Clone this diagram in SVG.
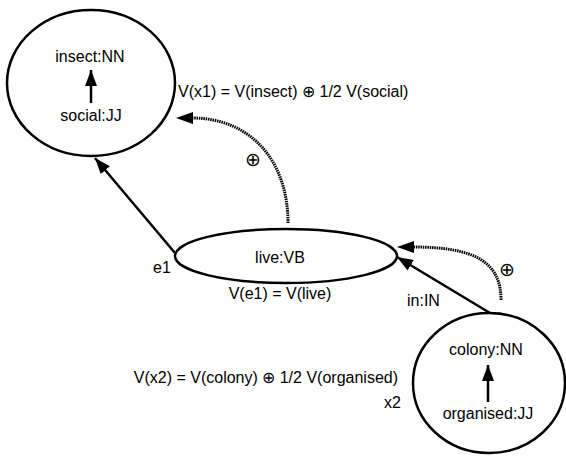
<svg xmlns="http://www.w3.org/2000/svg" width="566" height="456" viewBox="0 0 566 456">
<style>
text{font-family:"Liberation Sans",Arial,sans-serif;font-size:16px;fill:#000}
.node{fill:#fff;stroke:#000;stroke-width:2.5}
.edge{fill:none;stroke:#000;stroke-width:2.5}
.dot{fill:none;stroke:#000;stroke-width:3;stroke-dasharray:1.5 0.8}
.c{text-anchor:middle}
.op{font-size:19px}
</style>
<defs>
<marker id="ah" markerUnits="userSpaceOnUse" markerWidth="20" markerHeight="14" refX="16" refY="6" orient="auto" viewBox="0 0 20 12">
<path d="M0,0 L16,6 L0,12 Z" fill="#000" stroke="none"/>
</marker>
</defs>
<rect width="566" height="456" fill="#fff"/>
<g id="connectors">
<line class="edge" x1="175" y1="253" x2="95" y2="158" marker-end="url(#ah)"/>
<line class="edge" x1="490" y1="313" x2="397" y2="257" marker-end="url(#ah)"/>
<path class="dot" d="M288,223 C288,160 250,118 192,118"/>
<path d="M176,118 L193,112 L193,124 Z" fill="#000"/>
<path class="dot" d="M501,300 C501,262 475,247 413,247"/>
<path d="M397,247 L414,241 L414,253 Z" fill="#000"/>
<text class="c op" x="253" y="166">⊕</text>
<text class="c op" x="507" y="276">⊕</text>
<text x="407" y="306">in:IN</text>
</g>
<g id="x1">
<ellipse class="node" cx="91" cy="83" rx="84" ry="73"/>
<text class="c" x="90" y="62">insect:NN</text>
<text class="c" x="91" y="121">social:JJ</text>
<line class="edge" x1="91" y1="103" x2="91" y2="70" marker-end="url(#ah)"/>
<text x="178" y="97">V(x1) = V(insect) ⊕ 1/2 V(social)</text>
</g>
<g id="e1">
<ellipse class="node" cx="286" cy="256" rx="111" ry="27"/>
<text class="c" x="280" y="263">live:VB</text>
<text x="153" y="273">e1</text>
<text class="c" x="280" y="299">V(e1) = V(live)</text>
</g>
<g id="x2">
<ellipse class="node" cx="489" cy="383" rx="76" ry="70"/>
<text class="c" x="486" y="355">colony:NN</text>
<text class="c" x="488" y="419">organised:JJ</text>
<line class="edge" x1="488" y1="402" x2="488" y2="365" marker-end="url(#ah)"/>
<text x="384" y="408">x2</text>
<text x="398" y="383" style="text-anchor:end">V(x2) = V(colony) ⊕ 1/2 V(organised)</text>
</g>
</svg>
